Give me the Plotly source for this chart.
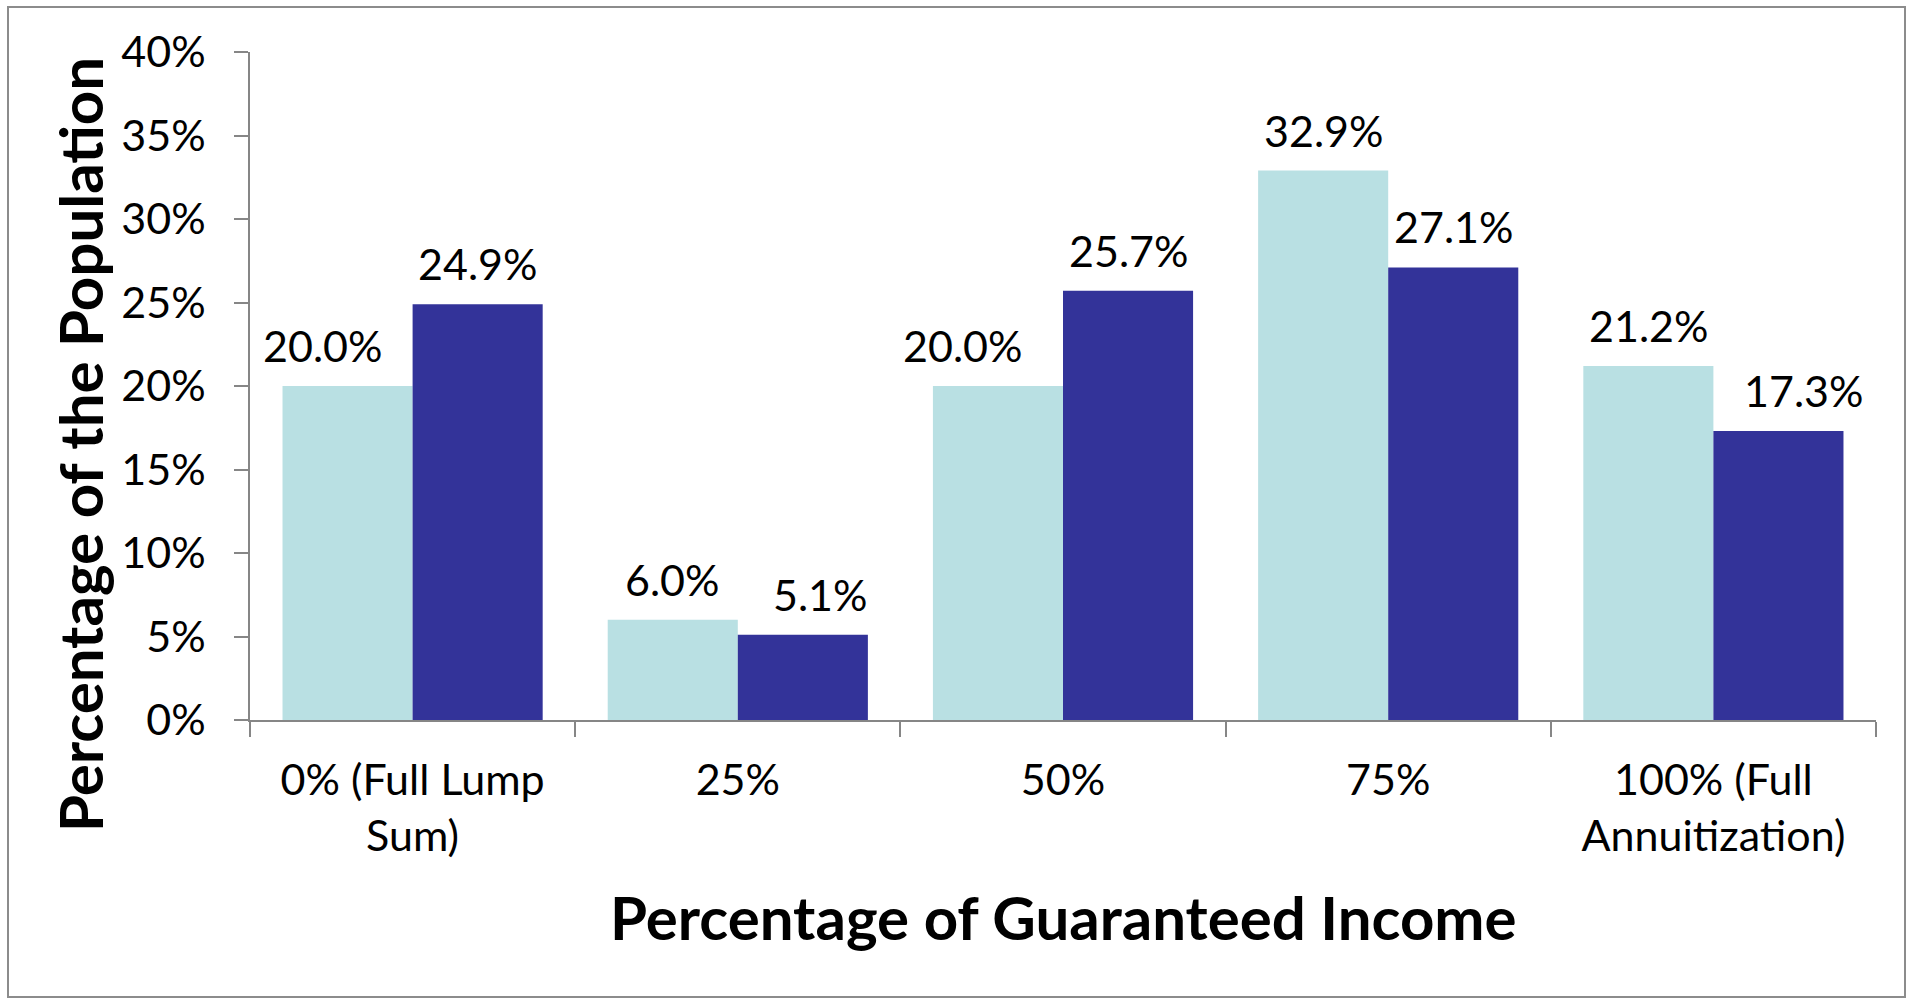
import plotly.graph_objects as go

categories = ["0% (Full Lump<br>Sum)", "25%", "50%", "75%", "100% (Full<br>Annuitization)"]
series_a = [0.200, 0.060, 0.200, 0.329, 0.212]
series_b = [0.249, 0.051, 0.257, 0.271, 0.173]
y_ticks = [0, 0.05, 0.10, 0.15, 0.20, 0.25, 0.30, 0.35, 0.40]
x_title = "Percentage of Guaranteed Income"
y_title = "Percentage of the Population"

# label nudges (pixels), mimicking the original chart's label placement
nudge_a = [-25, 0, -36, 0, 0]
nudge_b = [0, 18, 0, 0, 25]

LIGHT = "#B9E0E3"
DARK = "#333399"
FONT = "Lato"

fig = go.Figure()
fig.add_trace(go.Bar(x=categories, y=series_a, marker=dict(color=LIGHT, line=dict(width=0)), name="A"))
fig.add_trace(go.Bar(x=categories, y=series_b, marker=dict(color=DARK, line=dict(width=0)), name="B"))

W, H = 1912, 1000
ml, mr, mt, mb = 250, 36, 52, 280
pw, ph = W - ml - mr, H - mt - mb

def px2paper_x(px):
    return (px - ml) / pw

def px2paper_y(py):
    return (H - mb - py) / ph

annotations = []
for i, c in enumerate(categories):
    for vals, off, nud in ((series_a, -65, nudge_a), (series_b, 65, nudge_b)):
        annotations.append(dict(
            x=c, y=vals[i], xref="x", yref="y", text=f"{vals[i]*100:.1f}%",
            showarrow=False, xanchor="center", yanchor="bottom",
            xshift=off + nud[i], yshift=13,
            font=dict(family=FONT, size=43, color="black")))

annotations.append(dict(
    text=f"<b>{x_title}</b>", xref="paper", yref="paper",
    x=px2paper_x(1063), y=px2paper_y(917), xanchor="center", yanchor="middle",
    showarrow=False, font=dict(family=FONT, size=60, color="black")))
annotations.append(dict(
    text=f"<b>{y_title}</b>", xref="paper", yref="paper", textangle=-90,
    x=px2paper_x(80), y=px2paper_y(445), xanchor="center", yanchor="middle",
    showarrow=False, font=dict(family=FONT, size=60, color="black")))

fig.update_layout(
    width=W, height=H,
    margin=dict(l=ml, r=mr, t=mt, b=mb),
    paper_bgcolor="white", plot_bgcolor="white",
    barmode="group", bargap=0.2, bargroupgap=0,
    showlegend=False,
    font=dict(family=FONT, color="black"),
    annotations=annotations,
    shapes=[dict(type="rect", xref="paper", yref="paper",
                 x0=px2paper_x(8), x1=px2paper_x(1905),
                 y0=px2paper_y(997), y1=px2paper_y(7),
                 line=dict(color="#8C8C8C", width=2), fillcolor="rgba(0,0,0,0)", layer="below")],
)
fig.update_xaxes(
    type="category",
    showline=True, linecolor="#868686", linewidth=1.5,
    ticks="outside", tickson="boundaries", ticklen=15, tickcolor="#868686", tickwidth=1.5,
    tickfont=dict(family=FONT, size=43, color="black"),
    ticklabelstandoff=22,
    showgrid=False, zeroline=False,
)
fig.update_yaxes(
    range=[0, 0.4], tickvals=y_ticks, tickformat=".0%",
    showline=True, linecolor="#868686", linewidth=1.5,
    ticks="outside", ticklen=14, tickcolor="#868686", tickwidth=1.5,
    tickfont=dict(family=FONT, size=43, color="black"),
    ticklabelstandoff=20,
    showgrid=False, zeroline=False,
)

fig.write_html("out.html")
